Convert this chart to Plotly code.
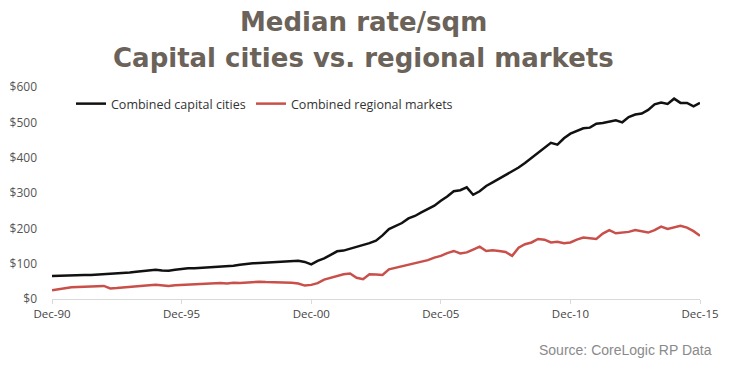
import plotly.graph_objects as go

# Quarterly observations, Dec-1990 .. Dec-2015
quarters = ["1990-12"] + [f"{y}-{m}" for y in range(1991, 2016) for m in ("03", "06", "09", "12")]

capital = [65,
    66, 66, 67, 67,
    68, 68, 69, 70,
    70, 71, 73, 75,
    77, 79, 81, 83,
    81, 80, 83, 86,
    87, 87, 88, 88,
    89, 91, 93, 94,
    97, 100, 101, 102,
    103, 103, 104, 105,
    106, 108, 105, 98,
    108, 115, 125, 135,
    137, 142, 146, 152,
    158, 165, 180, 198,
    207, 215, 228, 235,
    245, 255, 264, 278,
    290, 305, 308, 316,
    295, 305, 320, 330,
    340, 350, 360, 372,
    385, 400, 415, 430,
    442, 437, 455, 468,
    475, 483, 485, 496,
    498, 503, 506, 500,
    515, 522, 525, 535,
    551, 556, 552, 567,
    555, 555, 545, 555]

regional = [25,
    28, 31, 33, 34,
    34, 35, 36, 37,
    30, 31, 33, 35,
    37, 38, 39, 40,
    38, 37, 39, 40,
    41, 42, 42, 43,
    44, 45, 44, 46,
    45, 47, 48, 49,
    48, 48, 48, 47,
    46, 44, 38, 40,
    45, 55, 60, 65,
    70, 72, 60, 56,
    70, 69, 68, 84,
    88, 92, 98, 100,
    105, 110, 117, 122,
    130, 136, 129, 132,
    140, 148, 136, 138,
    136, 133, 122, 145,
    155, 160, 170, 168,
    160, 162, 158, 160,
    168, 174, 172, 170,
    185, 195, 186, 188,
    190, 195, 192, 188,
    195, 205, 198, 203,
    207, 202, 192, 179]

tick_dates = ["1990-12-01", "1995-12-01", "2000-12-01", "2005-12-01", "2010-12-01", "2015-12-01"]
tick_labels = ["Dec-90", "Dec-95", "Dec-00", "Dec-05", "Dec-10", "Dec-15"]
y_ticks = [0, 100, 200, 300, 400, 500, 600]
y_labels = ["$0", "$100", "$200", "$300", "$400", "$500", "$600"]

W, H = 731, 370
L, R, T, B = 52, 31, 87, 71
pw, ph = W - L - R, H - T - B

def px_x(x):
    return (x - L) / pw

def px_y(y):
    return (H - B - y) / ph

x_dates = [q + "-01" for q in quarters]

fig = go.Figure()
fig.add_trace(go.Scatter(x=x_dates, y=capital, mode="lines",
                         name="Combined capital cities", legend="legend",
                         line=dict(color="#111111", width=2.5)))
fig.add_trace(go.Scatter(x=x_dates, y=regional, mode="lines",
                         name="Combined regional markets", legend="legend2",
                         line=dict(color="#c9504a", width=2.5)))

legend_font = dict(family="Open Sans", size=12.5, color="#333333")
title_font = dict(family="DejaVu Sans", size=26, color="#6b6259")
fig.update_layout(
    width=W, height=H,
    margin=dict(l=L, r=R, t=T, b=B, autoexpand=False),
    paper_bgcolor="white", plot_bgcolor="white",
    showlegend=True,
    legend=dict(orientation="h", x=px_x(71), y=px_y(104), xanchor="left", yanchor="middle",
                font=legend_font, bgcolor="rgba(0,0,0,0)", itemwidth=30),
    legend2=dict(orientation="h", x=px_x(251), y=px_y(104), xanchor="left", yanchor="middle",
                 font=legend_font, bgcolor="rgba(0,0,0,0)", itemwidth=30),
    annotations=[
        dict(text="<b>Median rate/sqm</b>", x=px_x(363), y=px_y(22), xref="paper", yref="paper",
             xanchor="center", yanchor="middle", showarrow=False, font=title_font),
        dict(text="<b>Capital cities vs. regional markets</b>", x=px_x(363), y=px_y(58),
             xref="paper", yref="paper", xanchor="center", yanchor="middle",
             showarrow=False, font=title_font),
        dict(text="Source: CoreLogic RP Data", x=px_x(714), y=px_y(350), xref="paper",
             yref="paper", xanchor="right", yanchor="middle", showarrow=False,
             font=dict(family="Liberation Sans", size=14, color="#8a8a8a")),
    ],
)

fig.update_xaxes(type="date", range=["1990-12-01", "2015-12-01"], automargin=False,
                 tickvals=tick_dates, ticktext=tick_labels,
                 showgrid=False, showline=True, linecolor="#d9d9d9", linewidth=1,
                 ticks="outside", ticklen=4, tickcolor="#d9d9d9",
                 tickfont=dict(family="Open Sans", size=11.5, color="#444444"))
fig.update_yaxes(range=[0, 600], tickvals=y_ticks, ticktext=y_labels, automargin=False,
                 showgrid=False, zeroline=False, showline=False,
                 ticks="", ticklabelstandoff=14,
                 tickfont=dict(family="Open Sans", size=12, color="#555555"))

fig.write_html("out.html", config={"displayModeBar": False},
               post_script="document.body.style.margin='0';document.body.style.padding='0';")
